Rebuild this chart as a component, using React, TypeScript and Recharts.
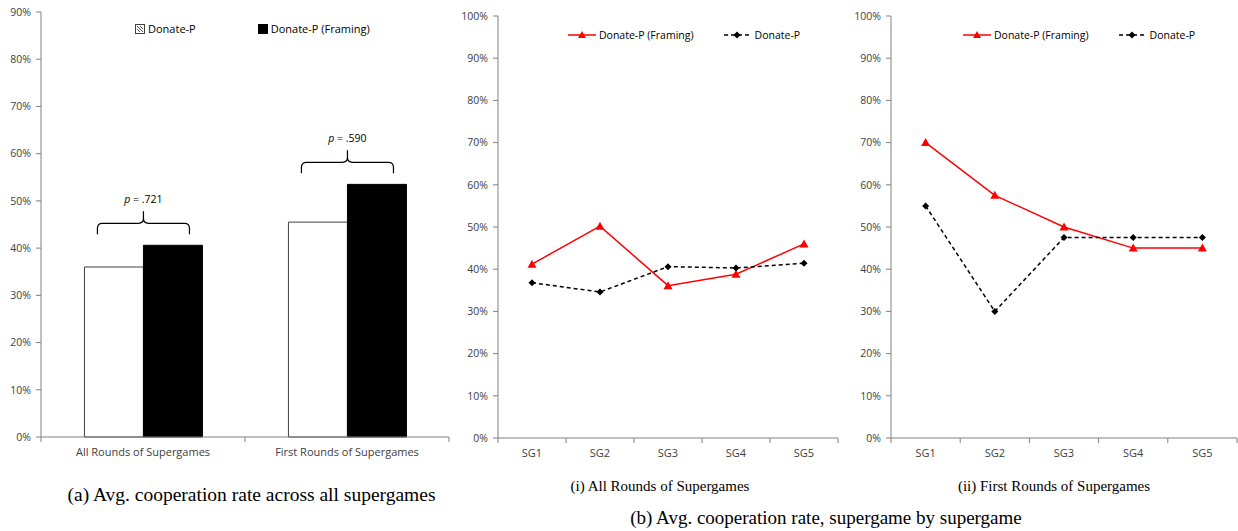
import React from 'react'
import { BarChart, Bar, LineChart, Line, XAxis, YAxis, LabelList } from 'recharts'

const groups = ['All Rounds of Supergames', 'First Rounds of Supergames']
const donateP = [36.0, 45.5]
const donatePFraming = [40.6, 53.5]
const pValues = ['.721', '.590']
const barTicks = [0, 10, 20, 30, 40, 50, 60, 70, 80, 90]

const supergames = ['SG1', 'SG2', 'SG3', 'SG4', 'SG5']
const allRoundsFraming = [41.2, 50.2, 36.1, 38.8, 46.0]
const allRoundsDonate = [36.8, 34.6, 40.6, 40.3, 41.4]
const firstRoundsFraming = [70.0, 57.5, 50.0, 45.0, 45.0]
const firstRoundsDonate = [55.0, 30.0, 47.5, 47.5, 47.5]
const lineTicks = [0, 10, 20, 30, 40, 50, 60, 70, 80, 90, 100]

const barSeries = [
  { key: 'donate', name: 'Donate-P' },
  { key: 'framing', name: 'Donate-P (Framing)' },
]
const lineSeries = [
  { key: 'framing', name: 'Donate-P (Framing)' },
  { key: 'donate', name: 'Donate-P' },
]

const FONT = "'Open Sans', sans-serif"
const AXIS = '#808080'
const TEXT = '#404040'

const barData = groups.map((g, i) => ({ group: g, donate: donateP[i], framing: donatePFraming[i], p: pValues[i] }))
const allData = supergames.map((s, i) => ({ sg: s, framing: allRoundsFraming[i], donate: allRoundsDonate[i] }))
const firstData = supergames.map((s, i) => ({ sg: s, framing: firstRoundsFraming[i], donate: firstRoundsDonate[i] }))

const pct = (v: number) => `${v}%`

// category label in the middle, tick marks on the band edges (excel style)
function CatTick(props: any) {
  const { x, y, payload, index, half, count } = props
  return (
    <g>
      <line x1={x - half} x2={x - half} y1={y} y2={y + 5} stroke={AXIS} />
      {index === count - 1 && <line x1={x + half} x2={x + half} y1={y} y2={y + 5} stroke={AXIS} />}
      <text x={x} y={y + 19} textAnchor="middle" fontSize={11} fontFamily={FONT} fill={TEXT}>
        {payload.value}
      </text>
    </g>
  )
}

function Brace(props: any) {
  const { x, y, width, value } = props
  const cx = x
  const x1 = cx - width * 0.78
  const x2 = cx + width * 0.78
  const yb = y - 11
  const yh = y - 22
  const yp = y - 34
  const r = 5
  const d = `M${x1},${yb} L${x1},${yh + r} Q${x1},${yh} ${x1 + r},${yh} L${cx - r},${yh} Q${cx},${yh} ${cx},${yh - r} L${cx},${yp}
    M${cx},${yh - r} Q${cx},${yh} ${cx + r},${yh} L${x2 - r},${yh} Q${x2},${yh} ${x2},${yh + r} L${x2},${yb}`
  return (
    <g>
      <path d={d} fill="none" stroke="#000" strokeWidth={1.2} />
      <text x={cx} y={y - 42} textAnchor="middle" fontSize={10.5} fontFamily={FONT} fill="#000">
        <tspan fontStyle="italic">p</tspan> = {value}
      </text>
    </g>
  )
}

function BarLegend({ left, top }: any) {
  return (
    <div style={{ position: 'absolute', left, top, display: 'flex', gap: 62, fontFamily: FONT, fontSize: 11, color: '#000' }}>
      {barSeries.map((e) => (
        <div key={e.key} style={{ display: 'flex', alignItems: 'center', gap: 3 }}>
          <svg width={10} height={10}>
            {e.key === 'donate' ? (
              <g>
                <rect x={0.5} y={0.5} width={9} height={9} fill="#fff" stroke="#404040" />
                <line x1={2} y1={2} x2={8} y2={8} stroke="#404040" />
                <line x1={2} y1={5} x2={5} y2={8} stroke="#404040" />
                <line x1={5} y1={2} x2={8} y2={5} stroke="#404040" />
              </g>
            ) : (
              <rect x={0} y={0} width={10} height={10} fill="#000" />
            )}
          </svg>
          <span>{e.name}</span>
        </div>
      ))}
    </div>
  )
}

function LineLegend({ left, top }: any) {
  return (
    <div style={{ position: 'absolute', left, top, display: 'flex', gap: 30, fontFamily: FONT, fontSize: 10.5, color: '#000' }}>
      {lineSeries.map((e) => (
        <div key={e.key} style={{ display: 'flex', alignItems: 'center', gap: 3 }}>
          <svg width={28} height={10}>
            {e.key === 'framing' ? (
              <g>
                <line x1={0} y1={5} x2={28} y2={5} stroke="#ff0000" strokeWidth={1.5} />
                <polygon points="14,1 10,8 18,8" fill="#ff0000" />
              </g>
            ) : (
              <g>
                <line x1={0} y1={5} x2={28} y2={5} stroke="#000" strokeWidth={1.5} strokeDasharray="4 3" />
                <polygon points="13,1.5 16.5,5 13,8.5 9.5,5" fill="#000" />
              </g>
            )}
          </svg>
          <span>{e.name}</span>
        </div>
      ))}
    </div>
  )
}

const triangleDot = (p: any) => {
  const { cx, cy, index } = p
  return <polygon key={`t${index}`} points={`${cx},${cy - 4.5} ${cx - 4.5},${cy + 3.5} ${cx + 4.5},${cy + 3.5}`} fill="#ff0000" />
}
const diamondDot = (p: any) => {
  const { cx, cy, index } = p
  return <polygon key={`d${index}`} points={`${cx},${cy - 3.5} ${cx + 3.5},${cy} ${cx},${cy + 3.5} ${cx - 3.5},${cy}`} fill="#000" />
}

function SupergameChart({ data, yWidth, width, right }: any) {
  const plotW = width - 5 - yWidth - right
  const half = plotW / supergames.length / 2
  return (
    <LineChart width={width} height={470} data={data} margin={{ top: 16, right, bottom: 2, left: 5 }}>
      <XAxis
        dataKey="sg"
        padding={{ left: half, right: half }}
        axisLine={{ stroke: AXIS }}
        tickLine={false}
        tickSize={0}
        tickMargin={0}
        height={30}
        interval={0}
        tick={(p: any) => <CatTick {...p} half={half} count={supergames.length} />}
      />
      <YAxis
        width={yWidth}
        domain={[0, 100]}
        ticks={lineTicks}
        interval={0}
        tickFormatter={pct}
        axisLine={{ stroke: AXIS }}
        tickLine={{ stroke: AXIS }}
        tickSize={5}
        tickMargin={5}
        tick={{ fontSize: 10.5, fill: TEXT, fontFamily: FONT }}
      />
      <Line name={lineSeries[0].name} dataKey="framing" stroke="#ff0000" strokeWidth={1.5} dot={triangleDot} activeDot={false} isAnimationActive={false} />
      <Line name={lineSeries[1].name} dataKey="donate" stroke="#000" strokeWidth={1.5} strokeDasharray="4 3" dot={diamondDot} activeDot={false} isAnimationActive={false} />
    </LineChart>
  )
}

export default function App() {
  const serif = "'Liberation Serif', 'Times New Roman', serif"
  return (
    <div style={{ position: 'absolute', left: 0, top: 0, width: 1238, height: 531, background: '#fff' }}>
      <div style={{ position: 'absolute', left: 0, top: 0 }}>
        <BarChart width={455} height={470} data={barData} margin={{ top: 12, right: 6, bottom: 3, left: 5 }} barCategoryGap="21.3%" barGap={0}>
          <XAxis
            dataKey="group"
            axisLine={{ stroke: AXIS }}
            tickLine={false}
            tickSize={0}
            tickMargin={0}
            height={30}
            interval={0}
            tick={(p: any) => <CatTick {...p} half={102} count={groups.length} />}
          />
          <YAxis
            width={36}
            domain={[0, 90]}
            ticks={barTicks}
            interval={0}
            tickFormatter={pct}
            axisLine={{ stroke: AXIS }}
            tickLine={{ stroke: AXIS }}
            tickSize={5}
            tickMargin={5}
            tick={{ fontSize: 10.5, fill: TEXT, fontFamily: FONT }}
          />
          <Bar name={barSeries[0].name} dataKey="donate" fill="#fff" stroke="#404040" strokeWidth={1} isAnimationActive={false} />
          <Bar name={barSeries[1].name} dataKey="framing" fill="#000" stroke="#000" isAnimationActive={false}>
            <LabelList dataKey="p" content={Brace} />
          </Bar>
        </BarChart>
        <BarLegend left={135} top={21} />
      </div>
      <div style={{ position: 'absolute', left: 455, top: 0 }}>
        <SupergameChart data={allData} yWidth={38} width={390} right={7} />
        <LineLegend left={113} top={28} />
      </div>
      <div style={{ position: 'absolute', left: 850, top: 0 }}>
        <SupergameChart data={firstData} yWidth={36} width={388} right={1} />
        <LineLegend left={113} top={28} />
      </div>
      <div style={{ position: 'absolute', left: 0, width: 503, top: 484, textAlign: 'center', fontFamily: serif, fontSize: 19.5, lineHeight: '22px' }}>
        (a) Avg. cooperation rate across all supergames
      </div>
      <div style={{ position: 'absolute', left: 460, width: 400, top: 478, textAlign: 'center', fontFamily: serif, fontSize: 15, lineHeight: '17px' }}>
        (i) All Rounds of Supergames
      </div>
      <div style={{ position: 'absolute', left: 854, width: 400, top: 478, textAlign: 'center', fontFamily: serif, fontSize: 15, lineHeight: '17px' }}>
        (ii) First Rounds of Supergames
      </div>
      <div style={{ position: 'absolute', left: 500, width: 652, top: 507, textAlign: 'center', fontFamily: serif, fontSize: 19, lineHeight: '22px' }}>
        (b) Avg. cooperation rate, supergame by supergame
      </div>
    </div>
  )
}
